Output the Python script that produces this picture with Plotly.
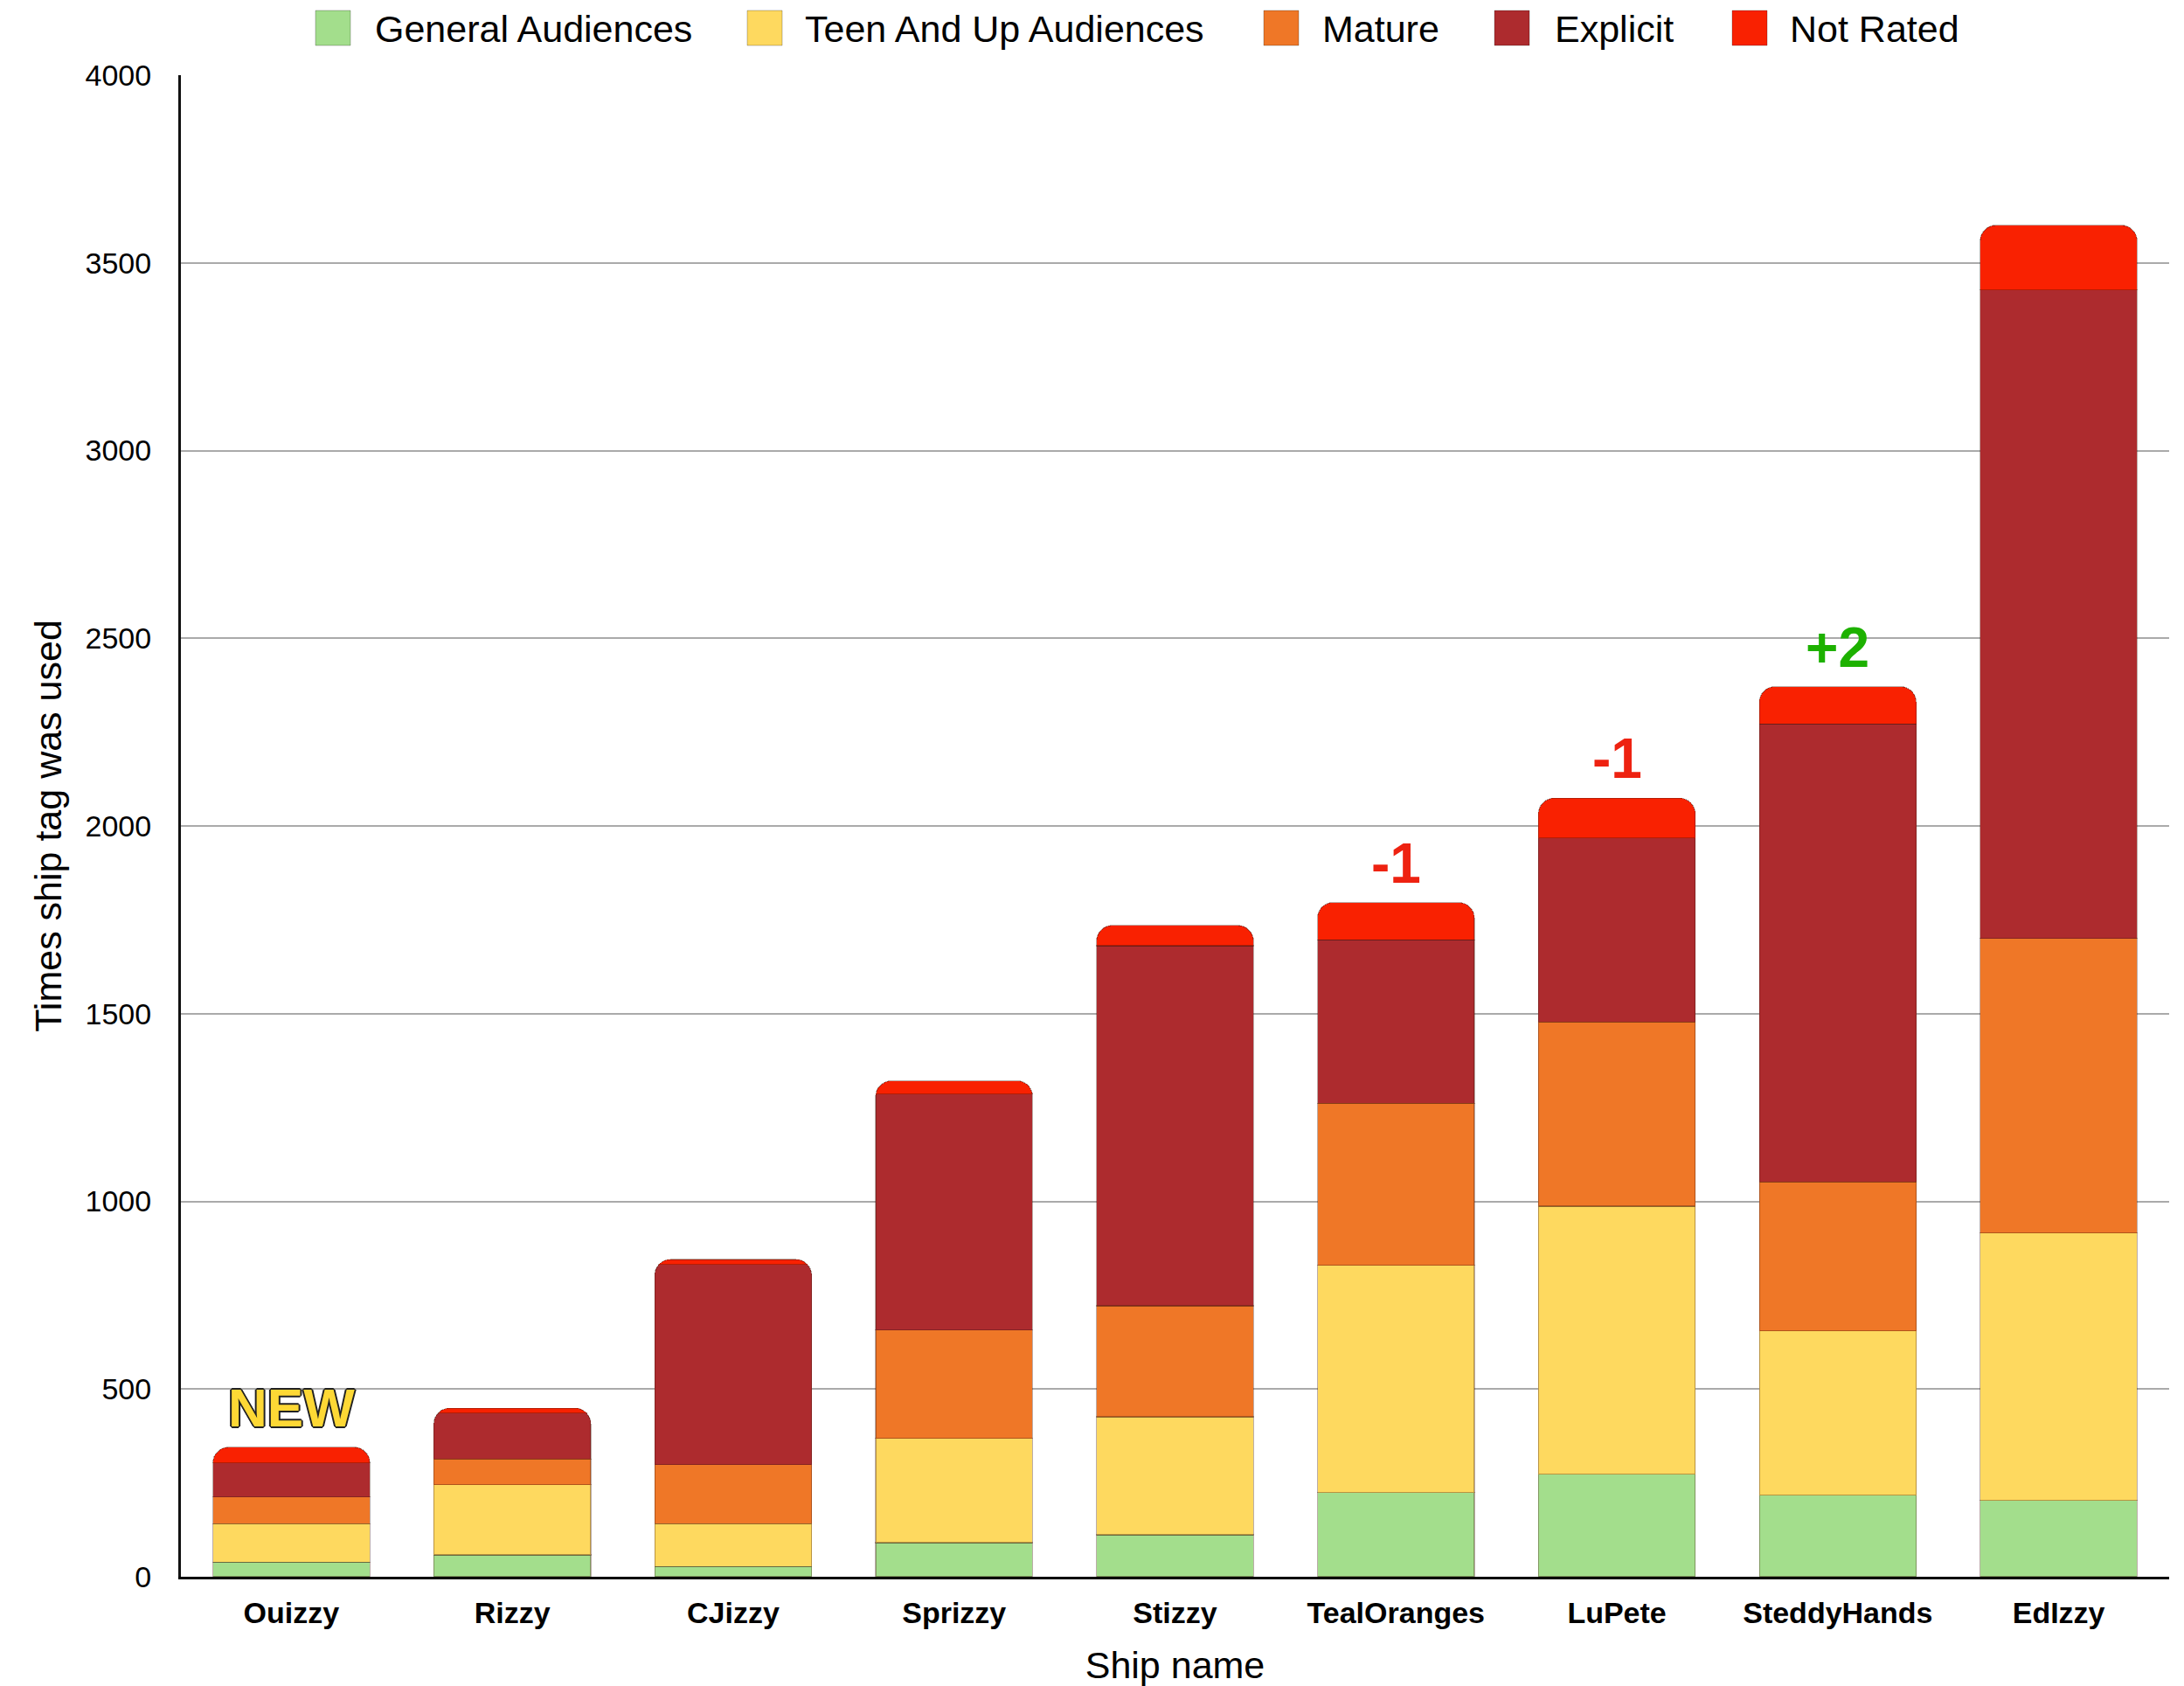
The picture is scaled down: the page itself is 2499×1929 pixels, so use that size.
import plotly.graph_objects as go

ships = ["Ouizzy", "Rizzy", "CJizzy", "Sprizzy", "Stizzy", "TealOranges", "LuPete", "SteddyHands", "EdIzzy"]
general = [39, 58, 27, 91, 112, 224, 273, 217, 203]
teen = [102, 187, 114, 278, 314, 606, 714, 438, 713]
mature = [72, 69, 158, 288, 296, 431, 491, 397, 784]
explicit = [90, 122, 533, 629, 959, 436, 490, 1220, 1728]
not_rated = [42, 13, 13, 35, 54, 99, 106, 99, 172]

series_names = ["General Audiences", "Teen And Up Audiences", "Mature", "Explicit", "Not Rated"]
series_values = [general, teen, mature, explicit, not_rated]
series_colors = ["#a3de8c", "#fed95f", "#ef7727", "#ad2b2e", "#f92101"]

change_ships = ["Ouizzy", "TealOranges", "LuPete", "SteddyHands"]
change_labels = ["NEW", "-1", "-1", "+2"]
change_colors = ["#fdd835", "#ee2211", "#ee2211", "#1db100"]

y_ticks = [0, 500, 1000, 1500, 2000, 2500, 3000, 3500, 4000]

# page body has an 8px margin; figure sized so the plot lands where the reference has it
OFF = 8
W, H = 2491, 1921
ML, MR, MT, MB = 199, 17, 78, 125
PW, PH = W - ML - MR, H - MT - MB

def px_x(p):
    return (p - OFF - ML) / PW

def px_y(p):
    return 1 + (MT - (p - OFF)) / PH

FAM = "Liberation Sans, Arial, sans-serif"

fig = go.Figure()
for name, vals, col in zip(series_names, series_values, series_colors):
    fig.add_trace(go.Bar(
        x=ships, y=vals, name=name,
        marker=dict(color=col, line=dict(color="rgba(60,20,10,0.35)", width=1.2)),
        showlegend=False,
    ))

totals = [sum(v) for v in zip(*series_values)]
for s, lab, col in zip(change_ships, change_labels, change_colors):
    i = ships.index(s)
    if lab == "NEW":
        font = dict(family=FAM, size=62, color=col, weight="bold",
                    shadow="2px 0 0 #222, -2px 0 0 #222, 0 2px 0 #222, 0 -2px 0 #222, 1px 1px 0 #222, -1px -1px 0 #222, 1px -1px 0 #222, -1px 1px 0 #222")
        ys = 9
    else:
        font = dict(family=FAM, size=64, color=col, weight="bold")
        ys = 7
    fig.add_annotation(x=s, y=totals[i], text=lab, showarrow=False, xref="x", yref="y",
                       yanchor="bottom", yshift=ys, font=font)

# manual legend (large square swatches as in the reference)
sw_left = [361, 855, 1446, 1710, 1982]
txt_left = [427, 919, 1511, 1777, 2046]
for name, col, sl, tl in zip(series_names, series_colors, sw_left, txt_left):
    fig.add_shape(type="rect", xref="paper", yref="paper",
                  x0=px_x(sl), x1=px_x(sl + 40), y0=px_y(52), y1=px_y(12),
                  fillcolor=col, line=dict(color="rgba(0,0,0,0.25)", width=1))
    fig.add_annotation(xref="paper", yref="paper", x=px_x(tl), y=px_y(33), text=name,
                       showarrow=False, xanchor="left", yanchor="middle",
                       font=dict(family=FAM, size=43, color="#000"))

fig.update_layout(
    width=W, height=H,
    barmode="stack", bargap=0.29, barcornerradius=18,
    plot_bgcolor="white", paper_bgcolor="white",
    margin=dict(l=ML, r=MR, t=MT, b=MB, autoexpand=False),
    font=dict(family=FAM, color="#000"),
)
fig.update_xaxes(
    title=dict(text="Ship name", font=dict(size=43), standoff=31),
    tickfont=dict(size=34, weight="bold"), ticklabelstandoff=9,
    showline=True, linecolor="#000", linewidth=3, showgrid=False, ticks="",
    range=[-0.5, 8.5], automargin=False,
)
fig.update_yaxes(
    title=dict(text="Times ship tag was used", font=dict(size=43), standoff=14),
    range=[0, 4000], tickvals=y_ticks, tickfont=dict(size=34),
    showline=True, linecolor="#111", linewidth=3, mirror=False,
    showgrid=True, gridcolor="#aaaaaa", gridwidth=1.5, ticks="", ticklabelstandoff=24,
    zeroline=False, automargin=False,
)
fig.write_html("out.html")
